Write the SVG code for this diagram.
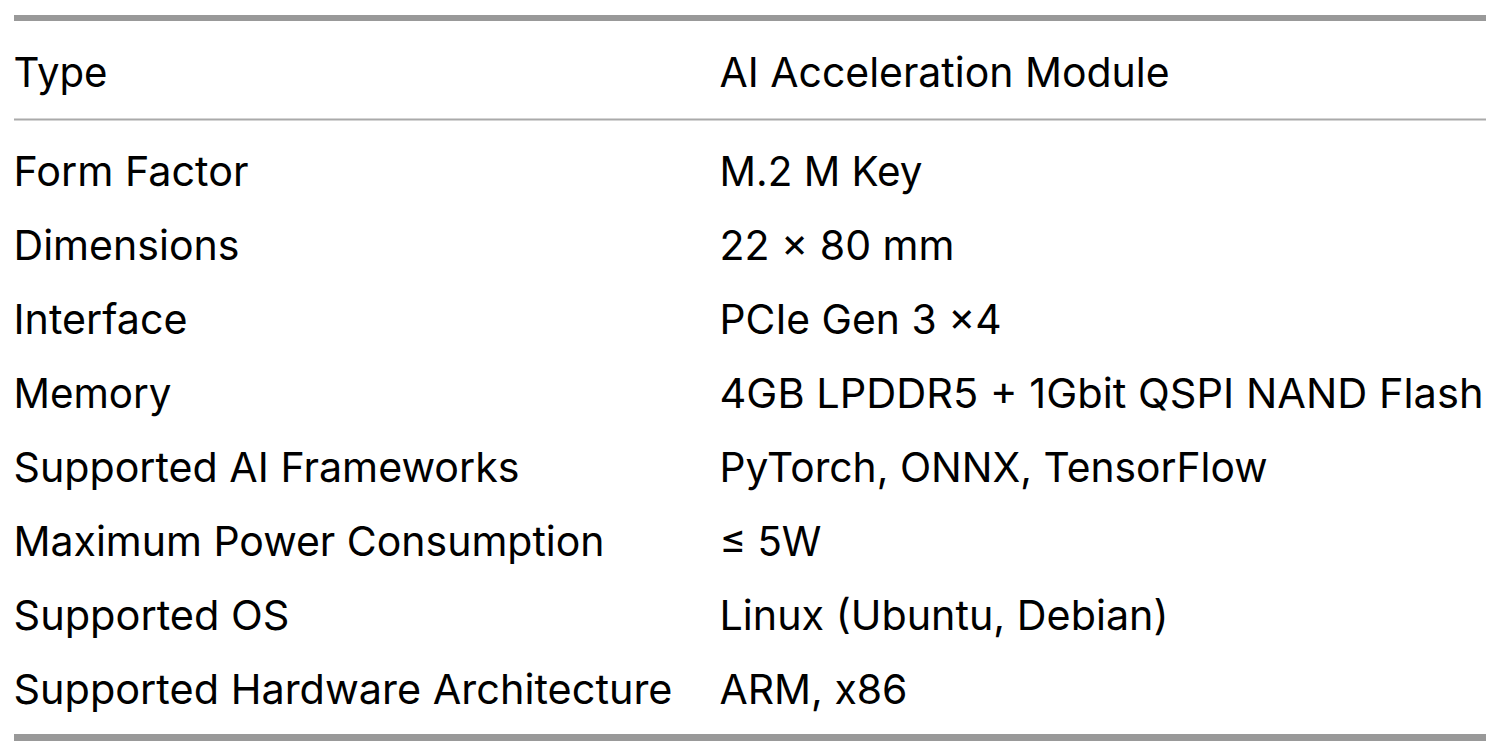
<svg xmlns="http://www.w3.org/2000/svg" width="1502" height="755" viewBox="0 0 1502 755">
<style>
.t{font-family:Inter,"Liberation Sans",Arial,sans-serif;font-size:41px;fill:#000}
.rule{stroke:#999;fill:none}
</style>
<rect width="1502" height="755" fill="#fff"/>
<g id="rules">
<line class="rule" x1="14" y1="18" x2="1486" y2="18" stroke-width="6"/>
<line x1="14" y1="119.5" x2="1486" y2="119.5" stroke="#aaa" stroke-width="2"/>
<line class="rule" x1="14" y1="737.5" x2="1486" y2="737.5" stroke-width="7"/>
</g>
<g id="header">
<text class="t" x="13.5" y="87" textLength="94" lengthAdjust="spacingAndGlyphs">Type</text>
<text class="t" x="719.5" y="87" textLength="450" lengthAdjust="spacingAndGlyphs">AI Acceleration Module</text>
</g>
<g id="row1"><text class="t" x="13.5" y="186" textLength="235" lengthAdjust="spacingAndGlyphs">Form Factor</text><text class="t" x="719.5" y="186" textLength="203" lengthAdjust="spacingAndGlyphs">M.2 M Key</text></g>
<g id="row2"><text class="t" x="13.5" y="260" textLength="226" lengthAdjust="spacingAndGlyphs">Dimensions</text><text class="t" x="719.5" y="260" textLength="235" lengthAdjust="spacingAndGlyphs">22 × 80 mm</text></g>
<g id="row3"><text class="t" x="13.5" y="334" textLength="174" lengthAdjust="spacingAndGlyphs">Interface</text><text class="t" x="719.5" y="334" textLength="282" lengthAdjust="spacingAndGlyphs">PCIe Gen 3 ×4</text></g>
<g id="row4"><text class="t" x="13.5" y="408" textLength="158" lengthAdjust="spacingAndGlyphs">Memory</text><text class="t" x="719.5" y="408" textLength="764" lengthAdjust="spacingAndGlyphs">4GB LPDDR5 + 1Gbit QSPI NAND Flash</text></g>
<g id="row5"><text class="t" x="13.5" y="482" textLength="506" lengthAdjust="spacingAndGlyphs">Supported AI Frameworks</text><text class="t" x="719.5" y="482" textLength="548" lengthAdjust="spacingAndGlyphs">PyTorch, ONNX, TensorFlow</text></g>
<g id="row6"><text class="t" x="13.5" y="556" textLength="591" lengthAdjust="spacingAndGlyphs">Maximum Power Consumption</text><text class="t" x="719.5" y="556" textLength="102" lengthAdjust="spacingAndGlyphs">≤ 5W</text></g>
<g id="row7"><text class="t" x="13.5" y="630" textLength="276" lengthAdjust="spacingAndGlyphs">Supported OS</text><text class="t" x="719.5" y="630" textLength="449" lengthAdjust="spacingAndGlyphs">Linux (Ubuntu, Debian)</text></g>
<g id="row8"><text class="t" x="13.5" y="704" textLength="659" lengthAdjust="spacingAndGlyphs">Supported Hardware Architecture</text><text class="t" x="719.5" y="704" textLength="188" lengthAdjust="spacingAndGlyphs">ARM, x86</text></g>
</svg>
